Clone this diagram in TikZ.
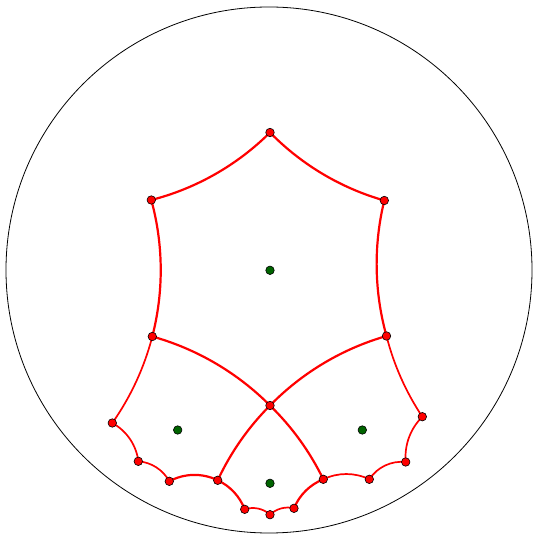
\documentclass[tikz,border=0pt]{standalone}
\usetikzlibrary{calc}
\definecolor{dkgreen}{RGB}{0,100,0}
\newcommand\defpt[3]{%
  \expandafter\gdef\csname gpx#1\endcsname{#2}%
  \expandafter\gdef\csname gpy#1\endcsname{#3}%
  \coordinate (#1) at (#2pt,#3pt);}
\newcommand\geoarc[3][]{%
  \pgfmathsetmacro\gmXa{\csname gpx#2\endcsname/263}%
  \pgfmathsetmacro\gmYa{\csname gpy#2\endcsname/263}%
  \pgfmathsetmacro\gmXb{\csname gpx#3\endcsname/263}%
  \pgfmathsetmacro\gmYb{\csname gpy#3\endcsname/263}%
  \pgfmathsetmacro\gmSa{\gmXa*\gmXa+\gmYa*\gmYa+1}%
  \pgfmathsetmacro\gmSb{\gmXb*\gmXb+\gmYb*\gmYb+1}%
  \pgfmathsetmacro\gmDet{\gmXa*\gmYb-\gmXb*\gmYa}%
  \pgfmathsetmacro\gmCx{(\gmSa*\gmYb-\gmSb*\gmYa)/(2*\gmDet)}%
  \pgfmathsetmacro\gmCy{(\gmXa*\gmSb-\gmXb*\gmSa)/(2*\gmDet)}%
  \pgfmathsetmacro\gmR{263*sqrt(\gmCx*\gmCx+\gmCy*\gmCy-1)}%
  \pgfmathsetmacro\gmAa{atan2(\gmYa-\gmCy,\gmXa-\gmCx)}%
  \pgfmathsetmacro\gmAb{atan2(\gmYb-\gmCy,\gmXb-\gmCx)}%
  \pgfmathsetmacro\gmDl{mod(\gmAb-\gmAa+540,360)-180}%
  \draw[#1] (#2) arc[start angle=\gmAa, delta angle=\gmDl, radius=\gmR pt];}
\tikzset{
  hexedge/.style={red, line width=2.2pt},
  thinedge/.style={red, line width=1.7pt},
  rdot/.style={circle, fill=red, draw=black, line width=0.6pt, inner sep=0pt, minimum size=8.5pt},
  gdot/.style={circle, fill=dkgreen, draw=black, line width=0.6pt, inner sep=0pt, minimum size=8.5pt},
}
\begin{document}
\begin{tikzpicture}
\useasboundingbox (-269pt,-264pt) rectangle (264pt,270pt);
\node[circle, draw=black, line width=0.8pt, minimum size=526pt, inner sep=0pt] (disk) at (0,0) {};
\defpt{V1}{1}{137.5}
\defpt{V2}{-117.7}{70}
\defpt{V6}{115.3}{69.5}
\defpt{V3}{-116.7}{-66.5}
\defpt{V5}{117.5}{-66}
\defpt{V4}{1}{-135.5}
\defpt{L1}{-156.7}{-153}
\defpt{L2}{-130.7}{-191.3}
\defpt{L3}{-99.7}{-211.3}
\defpt{L4}{-51.3}{-210.3}
\defpt{L5}{-24.3}{-239.3}
\defpt{B}{1}{-244.7}
\defpt{R5}{25}{-238.3}
\defpt{R4}{54.3}{-209.3}
\defpt{R3}{100.3}{-209.3}
\defpt{R2}{136.7}{-192}
\defpt{R1}{153.3}{-146.7}
% central hexagon
\geoarc[hexedge]{V1}{V2}
\geoarc[hexedge]{V2}{V3}
\geoarc[hexedge]{V3}{V4}
\geoarc[hexedge]{V4}{V5}
\geoarc[hexedge]{V5}{V6}
\geoarc[hexedge]{V6}{V1}
% thick lower edges
\geoarc[hexedge]{V4}{L4}
\geoarc[hexedge]{L3}{L4}
\geoarc[hexedge]{L4}{L5}
\geoarc[hexedge]{R5}{R4}
\geoarc[hexedge]{V4}{R4}
% thinner edges
\geoarc[thinedge]{V3}{L1}
\geoarc[thinedge]{L1}{L2}
\geoarc[thinedge]{L2}{L3}
\geoarc[thinedge]{L5}{B}
\geoarc[thinedge]{B}{R5}
\geoarc[thinedge]{R4}{R3}
\geoarc[thinedge]{R3}{R2}
\geoarc[thinedge]{R2}{R1}
\geoarc[thinedge]{R1}{V5}
% vertices
\foreach \v in {V1,V2,V3,V4,V5,V6,L1,L2,L3,L4,L5,B,R5,R4,R3,R2,R1}
  \node[rdot] (d\v) at (\v) {};
% centres
\node[gdot] (c0) at (1pt,-0.3pt) {};
\node[gdot] (cl) at (-91.3pt,-160pt) {};
\node[gdot] (cr) at (93.3pt,-160pt) {};
\node[gdot] (cb) at (1pt,-213.3pt) {};
\end{tikzpicture}
\end{document}
